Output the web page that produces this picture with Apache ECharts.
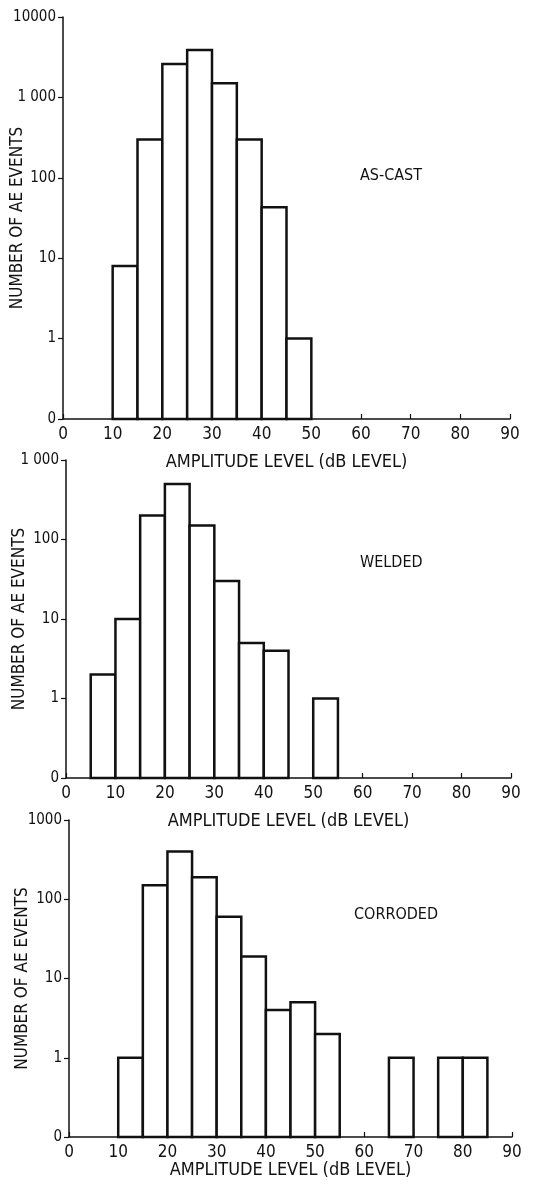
<!DOCTYPE html>
<html>
<head>
<meta charset="utf-8">
<script src="https://cdn.jsdelivr.net/npm/echarts@6/dist/echarts.min.js"></script>
<style>
  html, body { margin: 0; padding: 0; background: #fff; }
  #chart { width: 535px; height: 1187px; }
</style>
</head>
<body>
<div id="chart"></div>
<script>
// amplitude bins: left edge of each 5 dB bin
var binWidth = 5;
var zeroLevel = 0.1; // the log axis bottom, labelled "0"

var binsAsCast = [10, 15, 20, 25, 30, 35, 40, 45];
var countsAsCast = [8, 300, 2600, 3900, 1500, 300, 43, 1];

var binsWelded = [5, 10, 15, 20, 25, 30, 35, 40, 50];
var countsWelded = [2, 10, 200, 500, 150, 30, 5, 4, 1];

var binsCorroded = [10, 15, 20, 25, 30, 35, 40, 45, 50, 65, 75, 80];
var countsCorroded = [1, 150, 400, 190, 60, 19, 4, 5, 2, 1, 1, 1];

var yLabelsAsCast = ['0', '1', '10', '100', '1 000', '10000'];
var yLabelsWelded = ['0', '1', '10', '100', '1 000'];
var yLabelsCorroded = ['0', '1', '10', '100', '1000'];

var panelNames = ['AS-CAST', 'WELDED', 'CORRODED'];
var xName = 'AMPLITUDE LEVEL (dB LEVEL)';
var yName = 'NUMBER OF AE EVENTS';

var font = "'Liberation Sans Narrow', 'DejaVu Sans Condensed', sans-serif";
var ink = '#111';

function toData(bins, counts) {
  return bins.map(function (b, i) { return [b, b + binWidth, counts[i]]; });
}

function renderBin(params, api) {
  var top = api.coord([api.value(0), api.value(2)]);
  var bottom = api.coord([api.value(1), zeroLevel]);
  return {
    type: 'rect',
    shape: { x: top[0], y: top[1], width: bottom[0] - top[0], height: bottom[1] - top[1] },
    style: { fill: '#fff', stroke: ink, lineWidth: 2.5 }
  };
}

function xAxisFor(idx, gap) {
  return {
    gridIndex: idx, type: 'value', min: 0, max: 90, interval: 10,
    name: xName, nameLocation: 'middle', nameGap: gap, nameMoveOverlap: false,
    nameTextStyle: { fontFamily: font, fontSize: 18, color: ink },
    axisLine: { onZero: false, lineStyle: { color: ink, width: 1.5 } },
    axisTick: { inside: true, length: 5, lineStyle: { color: ink, width: 1.2 } },
    axisLabel: { fontFamily: font, fontSize: 17, color: ink, margin: 7 },
    splitLine: { show: false }
  };
}

function yAxisFor(idx, maxVal, labels, gap) {
  return {
    gridIndex: idx, type: 'log', logBase: 10, min: zeroLevel, max: maxVal,
    name: yName, nameLocation: 'middle', nameGap: gap, nameRotate: 90, nameMoveOverlap: false,
    nameTextStyle: { fontFamily: font, fontSize: 17, color: ink },
    axisLine: { show: true, lineStyle: { color: ink, width: 1.5 } },
    axisTick: { show: true, length: 5, lineStyle: { color: ink, width: 1.2 } },
    axisLabel: {
      fontFamily: font, fontSize: 15, color: ink, margin: 7,
      formatter: function (v) {
        var k = Math.round(Math.log(v) / Math.LN10) + 1;
        return labels[k] !== undefined ? labels[k] : '';
      }
    },
    splitLine: { show: false }
  };
}

function panelLabel(text, left, top) {
  return {
    text: text, left: left, top: top, padding: 0,
    textStyle: { fontFamily: font, fontSize: 16, fontWeight: 'normal', color: ink }
  };
}

var chart = echarts.init(document.getElementById('chart'));
chart.setOption({
  backgroundColor: '#fff',
  animation: false,
  title: [
    panelLabel(panelNames[0], 360, 168),
    panelLabel(panelNames[1], 360, 555),
    panelLabel(panelNames[2], 354, 907)
  ],
  grid: [
    { left: 63, top: 17, width: 447, height: 402, outerBoundsMode: 'none', containLabel: false },
    { left: 66, top: 460, width: 445, height: 318, outerBoundsMode: 'none', containLabel: false },
    { left: 69, top: 820, width: 443, height: 317, outerBoundsMode: 'none', containLabel: false }
  ],
  xAxis: [xAxisFor(0, 34), xAxisFor(1, 34), xAxisFor(2, 24)],
  yAxis: [
    yAxisFor(0, 10000, yLabelsAsCast, 37),
    yAxisFor(1, 1000, yLabelsWelded, 38),
    yAxisFor(2, 1000, yLabelsCorroded, 38)
  ],
  series: [
    { type: 'custom', xAxisIndex: 0, yAxisIndex: 0, renderItem: renderBin, data: toData(binsAsCast, countsAsCast), encode: { x: [0, 1], y: 2 } },
    { type: 'custom', xAxisIndex: 1, yAxisIndex: 1, renderItem: renderBin, data: toData(binsWelded, countsWelded), encode: { x: [0, 1], y: 2 } },
    { type: 'custom', xAxisIndex: 2, yAxisIndex: 2, renderItem: renderBin, data: toData(binsCorroded, countsCorroded), encode: { x: [0, 1], y: 2 } }
  ]
});
</script>
</body>
</html>
